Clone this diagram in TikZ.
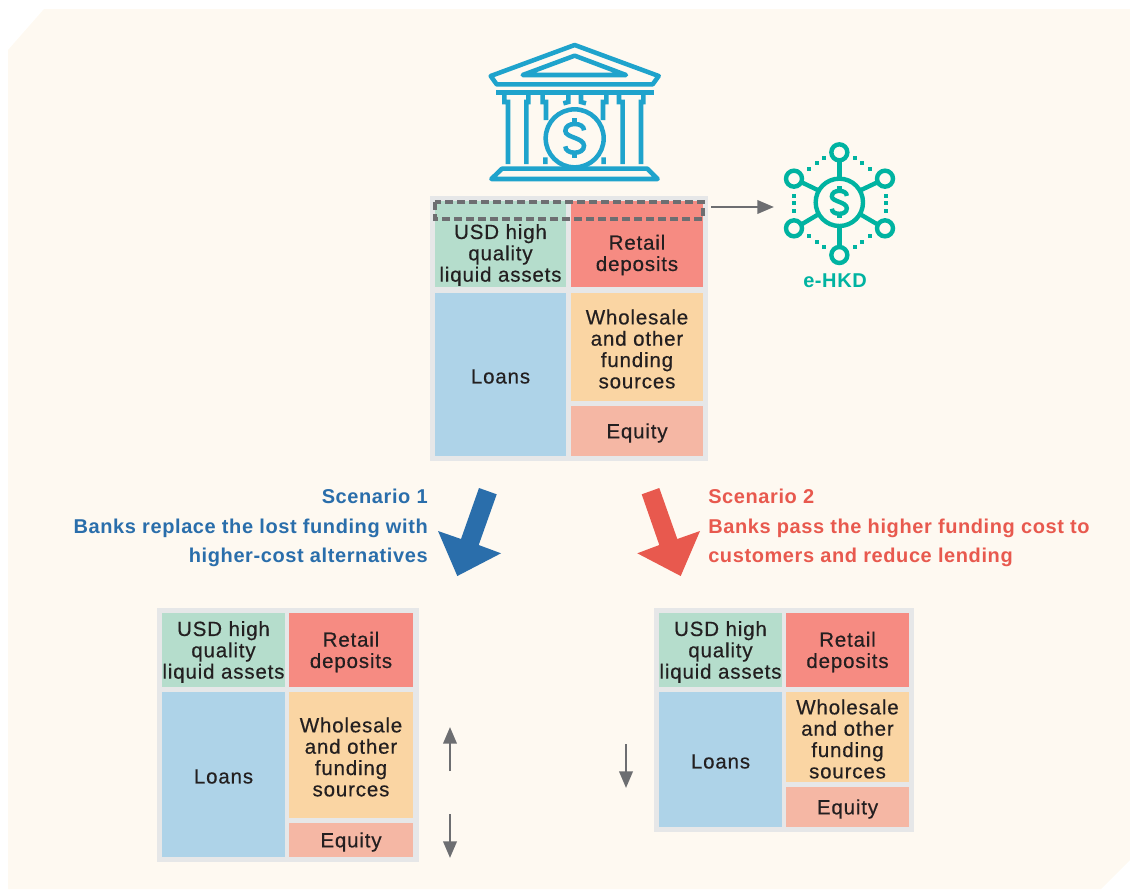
\documentclass[tikz,border=0pt]{standalone}
\usepackage{fontspec}
\usetikzlibrary{arrows.meta}
\setmainfont{Liberation Sans}
\newfontfamily\medfont[FakeBold=0.45,LetterSpace=4]{Liberation Sans}
\newfontfamily\headfont[LetterSpace=3]{Liberation Sans Bold}
\definecolor{bgc}{HTML}{FEF9F1}
\definecolor{panelc}{HTML}{E6E7E8}
\definecolor{greenc}{HTML}{B5DDCC}
\definecolor{redc}{HTML}{F68B82}
\definecolor{bluec}{HTML}{AED3E8}
\definecolor{orangec}{HTML}{FAD5A3}
\definecolor{peachc}{HTML}{F5B7A4}
\definecolor{txtc}{HTML}{231F20}
\definecolor{greyc}{HTML}{6D6E71}
\definecolor{bankc}{HTML}{1FA3CC}
\definecolor{tealc}{HTML}{00B3A1}
\definecolor{sblue}{HTML}{2A6EAB}
\definecolor{sred}{HTML}{E8594E}
\tikzset{
  cellbox/.style={inner sep=0pt,outer sep=0pt},
  celltext/.style={inner sep=0pt,outer sep=0pt,text=txtc,align=center,font=\medfont\fontsize{15.4}{16}\selectfont},
  scen/.style={inner sep=0pt,font=\headfont\fontsize{15}{22}\selectfont,anchor=base},
  vecarrow/.style={draw=greyc,line width=2pt,-{Triangle[length=12.5pt,width=10pt]}},
  bankline/.style={draw=bankc,line width=3.4pt,line join=miter},
  tealline/.style={draw=tealc,line width=3.3pt},
  tealdot/.style={fill=tealc},
}
% \boxcell{name}{x1}{y1}{x2}{y2}{colour}{text}
\newcommand{\boxcell}[7]{%
  \pgfmathsetmacro{\cw}{(#4-#2)*0.75}%
  \pgfmathsetmacro{\ch}{(#5-#3)*0.75}%
  \pgfmathsetmacro{\cx}{(#2+#4)/2}%
  \pgfmathsetmacro{\cy}{(#3+#5)/2}%
  \pgfmathsetmacro{\ct}{\cy+2}%
  \node[cellbox,fill=#6,minimum width=\cw pt,minimum height=\ch pt] (#1) at (\cx,\cy) {};
  \node[celltext] (#1-t) at (\cx,\ct) {#7};}
\newcommand{\dollarpath}[1]{%
  \draw[#1,line cap=butt] (28,-24) .. controls (28,-36) and (16,-43) .. (0,-43)
     .. controls (-16,-43) and (-28,-36) .. (-28,-22)
     .. controls (-28,-2) and (28,-2) .. (28,22)
     .. controls (28,36) and (16,43) .. (0,43)
     .. controls (-16,43) and (-28,36) .. (-28,24);
  \draw[#1,line cap=butt] (0,-43) -- (0,-60) (0,43) -- (0,60);}
\begin{document}
\begin{tikzpicture}[x=0.75pt,y=-0.75pt]
\useasboundingbox (0,0) rectangle (1130,889);
\fill[bgc] (8,50) -- (44,9) -- (1130,9) -- (1130,860) -- (1101,889) -- (8,889) -- cycle;

% bank icon
\begin{scope}[shift={(470,30)},x=0.25pt,y=-0.25pt]
  \draw[bankline,line join=round] (314,45) -- (566,138) -- (548,163) -- (80,163) -- (62,138) -- cycle;
  \draw[bankline,line join=round] (314,77) -- (468,135) -- (158,135) -- cycle;
  \fill[bankc] (78,180) rectangle (552,195);
  \draw[bankline]
    (103,195) -- (103,216) -- (114,216) -- (114,402)
    (175,195) -- (175,216) -- (169,216) -- (169,402)
    (218,195) -- (218,216) -- (228,216) -- (228,270)
    (409,195) -- (409,216) -- (399,216) -- (399,270)
    (295,195) -- (295,216) -- (280,220)
    (333,195) -- (333,216) -- (348,220)
    (447,195) -- (447,216) -- (458,216) -- (458,402)
    (520,195) -- (520,216) -- (513,216) -- (513,402)
    (226,382) -- (226,402)
    (401,382) -- (401,402);
  \draw[bankline,fill=bgc] (314,325) circle (87);
  \begin{scope}[shift={(314,325)}]
    \dollarpath{bankline}
  \end{scope}
  \draw[bankline,line join=round] (96,416) -- (532,416) -- (563,447) -- (64,447) -- cycle;
\end{scope}

% e-HKD icon
\begin{scope}[shift={(690,130)},x=0.25pt,y=-0.25pt]
  \foreach \a/\b/\c/\d in {448/146/448/91,448/288/448/351,385/181/333/156,511/181/564/156,385/253/333/284,511/253/564/284}
    \draw[tealline] (\a,\b) -- (\c,\d);
  \draw[tealline] (448,67) circle (24) (312,146) circle (24) (585,146) circle (24)
                  (312,295) circle (24) (585,295) circle (24) (448,375) circle (24);
  \draw[tealline] (448,217) circle (71);
  \foreach \x/\y in {402/85,380/100,358/118,494/85,517/100,540/118,
                     312/197,312/220,312/243,587/197,587/220,587/243,
                     358/318,380/335,402/352,494/352,517/335,540/318}
    \fill[tealdot] (\x-6,\y-6) rectangle (\x+6,\y+6);
  \begin{scope}[shift={(448,217)},x=0.2pt,y=-0.2pt]
    \dollarpath{tealline}
  \end{scope}
\end{scope}
\node[inner sep=0pt,text=tealc,font=\headfont\fontsize{15}{16}\selectfont] (ehkd) at (835,281) {e-HKD};

% top balance sheet
\boxcell{toppanel}{430}{196}{708}{461}{panelc}{}
\fill[greenc] (435,201) rectangle (566,220);
\fill[redc] (571,201) rectangle (703,220);
\boxcell{topusd}{435}{219}{566}{287}{greenc}{USD high\\quality\\liquid assets}
\boxcell{topret}{571}{219}{703}{287}{redc}{Retail\\deposits}
\boxcell{toploans}{435}{293}{566}{456}{bluec}{Loans}
\boxcell{topwhole}{571}{293}{703}{401}{orangec}{Wholesale\\and other\\funding\\sources}
\boxcell{topeq}{571}{406}{703}{456}{peachc}{Equity}
\draw[greyc,line width=2.3pt,dash pattern=on 6pt off 3pt] (435,202) rectangle (703,219);
\coordinate (tstart) at (711,207);
\coordinate (tend) at (774,207);
\draw[vecarrow] (tstart) -- (tend);

% scenario arrows
\fill[sblue] (479,488) -- (496.7,494.3) -- (478.7,545) -- (501,553.3) -- (457.3,576) -- (438,531) -- (461,539) -- cycle;
\fill[sred] (659.3,488) -- (641.7,494.3) -- (659.3,545) -- (637.3,553.3) -- (680.7,576) -- (700,531) -- (677.3,539) -- cycle;

% scenario labels
\node[scen,anchor=base east,text=sblue] (s1a) at (428,503) {Scenario 1};
\node[scen,anchor=base east,text=sblue] (s1b) at (428,533) {Banks replace the lost funding with};
\node[scen,anchor=base east,text=sblue] (s1c) at (428,562) {higher-cost alternatives};
\node[scen,anchor=base west,text=sred] (s2a) at (708,503) {Scenario 2};
\node[scen,anchor=base west,text=sred] (s2b) at (708,533) {Banks pass the higher funding cost to};
\node[scen,anchor=base west,text=sred] (s2c) at (708,562) {customers and reduce lending};

% left balance sheet
\boxcell{lpanel}{157}{608}{419}{862}{panelc}{}
\boxcell{lusd}{162}{613}{285}{687}{greenc}{USD high\\quality\\liquid assets}
\boxcell{lret}{289}{613}{413}{687}{redc}{Retail\\deposits}
\boxcell{lloans}{162}{692}{285}{857}{bluec}{Loans}
\boxcell{lwhole}{289}{692}{413}{818}{orangec}{Wholesale\\and other\\funding\\sources}
\boxcell{leq}{289}{823}{413}{857}{peachc}{Equity}
\coordinate (lua) at (450,771);
\coordinate (lub) at (450,727);
\coordinate (lda) at (450,814);
\coordinate (ldb) at (450,858);
\draw[vecarrow] (lua) -- (lub);
\draw[vecarrow] (lda) -- (ldb);

% right balance sheet
\boxcell{rpanel}{654}{608}{914}{832}{panelc}{}
\boxcell{rusd}{659}{613}{782}{687}{greenc}{USD high\\quality\\liquid assets}
\boxcell{rret}{786}{613}{909}{687}{redc}{Retail\\deposits}
\boxcell{rloans}{659}{692}{782}{827}{bluec}{Loans}
\boxcell{rwhole}{786}{692}{909}{782}{orangec}{Wholesale\\and other\\funding\\sources}
\boxcell{req}{786}{787}{909}{827}{peachc}{Equity}
\coordinate (rda) at (626,744);
\coordinate (rdb) at (626,788);
\draw[vecarrow] (rda) -- (rdb);
\end{tikzpicture}
\end{document}
